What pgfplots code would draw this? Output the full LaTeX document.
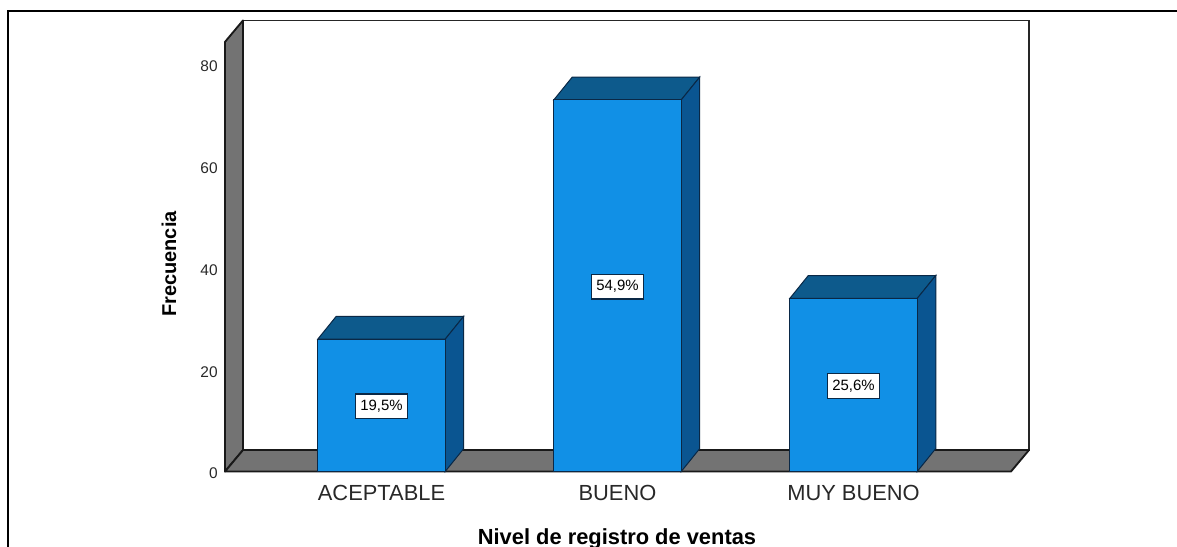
\documentclass[border=0pt]{standalone}
\usepackage{fontspec}
\setmainfont{Liberation Sans}
\usepackage{pgfplots}
\usepackage{pgfplotstable}
\pgfplotsset{compat=1.18}
\definecolor{barfront}{RGB}{17,144,230}
\definecolor{bartop}{RGB}{13,90,140}
\definecolor{barside}{RGB}{10,85,145}
\definecolor{barline}{RGB}{10,40,70}
\definecolor{wall}{RGB}{115,115,115}
\definecolor{ticktext}{RGB}{40,40,40}
\pgfplotstableread{
x y
0 26
1 73
2 34
}\freq
\pgfplotstableread{
x y label
0 12.8 {19,5\%}
1 36.3 {54,9\%}
2 16.8 {25,6\%}
}\pct
\begin{document}
\begin{tikzpicture}
\path[use as bounding box,clip] (0,0) rectangle (882.75pt,409.5pt);
\draw[line width=1.5pt,black] (6pt,-1pt) -- (6pt,401.25pt) -- (884pt,401.25pt);
\begin{axis}[
  at={(168.75pt,55.875pt)},anchor=south west,
  x=177pt,y=3.8175pt,
  xmin=-0.6631,xmax=2.6674,ymin=0,ymax=84.4,
  clip=false,
  axis line style={draw=none},
  tick style={draw=none},
  major tick length=0pt,
  ytick={0,20,40,60,80},
  xtick={0,1,2},
  xticklabels={ACEPTABLE,BUENO,MUY BUENO},
  /pgf/number format/assume math mode=true,
  yticklabel style={font=\fontsize{11.6}{13}\selectfont,text=ticktext,xshift=-2pt,yshift=-1.6pt},
  xticklabel style={font=\fontsize{16.4}{18}\selectfont,text=ticktext,yshift=-7pt},
  xlabel={Nivel de registro de ventas},
  ylabel={Frecuencia},
  every axis x label/.style={at={(axis description cs:0.4987,-0.1565)},anchor=center,font=\fontsize{16.4}{18}\selectfont\bfseries},
  every axis y label/.style={at={(axis description cs:-0.0712,0.483)},anchor=center,rotate=90,font=\fontsize{15}{17}\selectfont\bfseries},
]
% back wall
\addplot[fill=white,draw=black!85,line width=1.3pt] coordinates {(-0.5868,4.22) (2.7437,4.22) (2.7437,88.62) (-0.5868,88.62)} -- cycle;
% left wall
\addplot[fill=wall,draw=black!90,line width=1.4pt,line join=round] coordinates {(-0.6631,0) (-0.5868,4.22) (-0.5868,88.62) (-0.6631,84.4)} -- cycle;
% floor
\addplot[fill=wall,draw=black!90,line width=1.4pt,line join=round] coordinates {(-0.6631,0) (2.6674,0) (2.7437,4.22) (-0.5868,4.22)} -- cycle;
% bar depth: tops
\addplot[fill=bartop,draw=barline,line width=0.75pt] coordinates {(-0.27,26) (0.27,26) (0.3485,30.5) (-0.1915,30.5)} -- cycle;
\addplot[fill=bartop,draw=barline,line width=0.75pt] coordinates {(0.73,73) (1.27,73) (1.3485,77.5) (0.8085,77.5)} -- cycle;
\addplot[fill=bartop,draw=barline,line width=0.75pt] coordinates {(1.73,34) (2.27,34) (2.3485,38.5) (1.8085,38.5)} -- cycle;
% bar depth: sides
\addplot[fill=barside,draw=barline,line width=0.75pt] coordinates {(0.27,0) (0.3485,4.5) (0.3485,30.5) (0.27,26)} -- cycle;
\addplot[fill=barside,draw=barline,line width=0.75pt] coordinates {(1.27,0) (1.3485,4.5) (1.3485,77.5) (1.27,73)} -- cycle;
\addplot[fill=barside,draw=barline,line width=0.75pt] coordinates {(2.27,0) (2.3485,4.5) (2.3485,38.5) (2.27,34)} -- cycle;
% bar fronts
\addplot[ybar,bar width=95.6pt,bar shift=0pt,fill=barfront,draw=barline,line width=0.75pt] table[x=x,y=y] {\freq};
% percentage labels
\addplot[only marks,mark=none,draw=none,
  point meta=explicit symbolic,
  nodes near coords,
  nodes near coords align={center},
  every node near coord/.style={anchor=center,fill=white,draw=barline,line width=0.9pt,text=black,
    font=\fontsize{11.2}{13}\selectfont,inner xsep=3.6pt,inner ysep=0pt,minimum height=18.5pt},
] table[x=x,y=y,meta=label] {\pct};
\end{axis}
\end{tikzpicture}
\end{document}
